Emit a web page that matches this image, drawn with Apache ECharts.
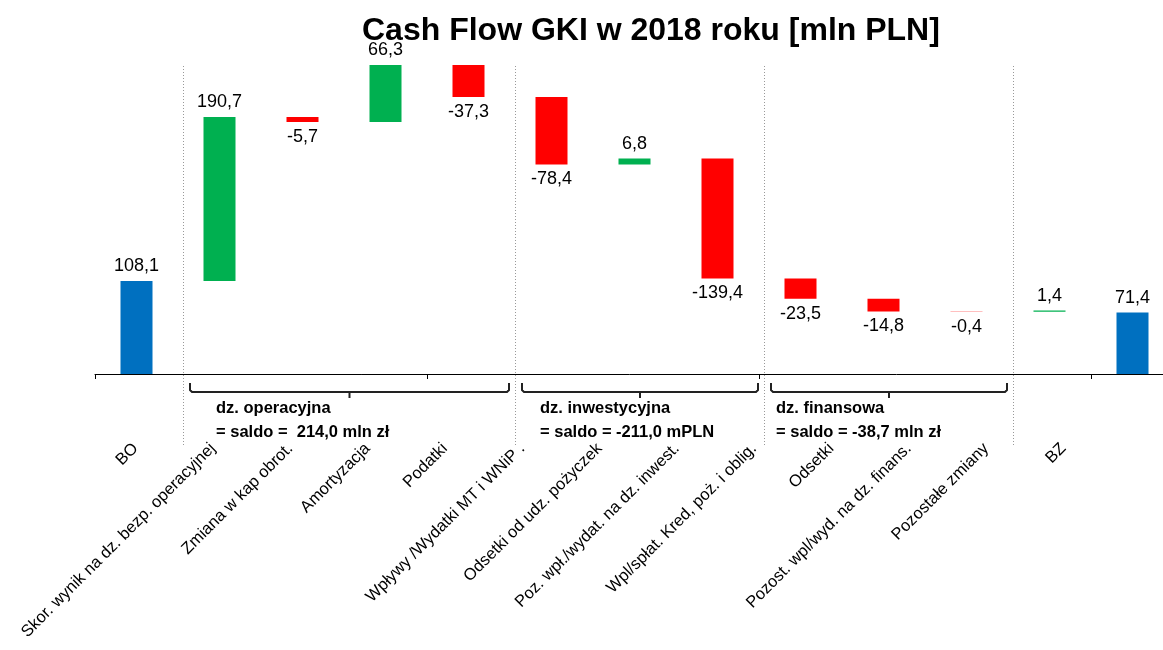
<!DOCTYPE html>
<html>
<head>
<meta charset="utf-8">
<script src="https://cdn.jsdelivr.net/npm/echarts@6/dist/echarts.min.js"></script>
<style>
  html, body { margin: 0; padding: 0; background: #fff; }
  #chart { width: 1163px; height: 650px; }
</style>
</head>
<body>
<div id="chart"></div>
<script>
  // dane
  const categories = [
    'BO',
    'Skor. wynik na dz. bezp. operacyjnej',
    'Zmiana w kap obrot.',
    'Amortyzacja',
    'Podatki',
    'Wpływy /Wydatki MT i WNiP .',
    'Odsetki od udz. pożyczek',
    'Poz. wpł./wydat. na dz. inwest.',
    'Wpl/spłat. Kred, poż. i oblig.',
    'Odsetki',
    'Pozost. wpl/wyd. na dz. finans.',
    'Pozostałe zmiany',
    'BZ'
  ];
  const values = [108.1, 190.7, -5.7, 66.3, -37.3, -78.4, 6.8, -139.4, -23.5, -14.8, -0.4, 1.4, 71.4];
  const isTotal = [true, false, false, false, false, false, false, false, false, false, false, false, true];
  const groups = [
    { from: 1, to: 4, dx: 26, lines: ['dz. operacyjna', '= saldo =  214,0 mln zł'] },
    { from: 5, to: 7, dx: 18, lines: ['dz. inwestycyjna', '= saldo = -211,0 mPLN'] },
    { from: 8, to: 10, dx: 5, lines: ['dz. finansowa', '= saldo = -38,7 mln zł'] }
  ];
  const separatorsAt = [1, 5, 8, 11];

  const BLUE = '#0070C0', GREEN = '#00B050', RED = '#FF0000';

  // waterfall: niewidoczna podstawa + słupek
  const baseData = [];
  const barData = [];
  let running = 0;
  values.forEach((v, i) => {
    let base, h, color;
    if (isTotal[i]) {
      base = 0; h = v; color = BLUE; running = v;
    } else if (v >= 0) {
      base = running; h = v; color = GREEN; running += v;
    } else {
      base = running + v; h = -v; color = RED; running += v;
    }
    baseData.push(base);
    barData.push({
      value: h,
      itemStyle: { color: color },
      label: { position: (isTotal[i] || v >= 0) ? 'top' : 'bottom' }
    });
  });

  const fmt = v => v.toFixed(1).replace('.', ',');

  const chart = echarts.init(document.getElementById('chart'));
  chart.setOption({
    animation: false,
    textStyle: { fontFamily: 'Liberation Sans, Arial, sans-serif' },
    title: {
      text: 'Cash Flow GKI w 2018 roku [mln PLN]',
      left: 357,
      top: 10,
      textStyle: { fontSize: 32, fontWeight: 'bold', color: '#000', fontFamily: 'Liberation Sans, Arial, sans-serif' }
    },
    grid: [
      { left: 95, width: 1079, top: 30, bottom: 276, outerBoundsMode: 'none', containLabel: false },
      { left: 97, width: 1005, top: 30, bottom: 276, outerBoundsMode: 'none', containLabel: false }
    ],
    xAxis: [
      {
        type: 'category',
        data: categories,
        axisLine: { lineStyle: { color: '#000', width: 1 } },
        axisTick: { show: true, length: 5, lineStyle: { color: '#000' } },
        axisLabel: { show: false }
      },
      {
        type: 'category',
        gridIndex: 1,
        data: categories,
        axisLine: { show: false },
        axisTick: { show: false },
        axisLabel: {
          interval: 0,
          rotate: 45,
          margin: 72,
          fontSize: 16.5,
          color: '#000'
        }
      }
    ],
    yAxis: [
      { type: 'value', min: 0, max: 400, show: false },
      { type: 'value', gridIndex: 1, min: 0, max: 1, show: false }
    ],
    series: [
      {
        type: 'bar',
        stack: 'wf',
        data: baseData,
        itemStyle: { color: 'transparent' },
        silent: true,
        barWidth: 32
      },
      {
        type: 'bar',
        stack: 'wf',
        data: barData,
        barWidth: 32,
        label: {
          show: true,
          fontSize: 18,
          color: '#000',
          distance: 6,
          formatter: p => fmt(values[p.dataIndex])
        }
      }
    ]
  });

  // separatory i klamry
  function drawAnnotations() {
    const px = i => chart.convertToPixel({ xAxisIndex: 0 }, i);
    const band = px(1) - px(0);
    const axisY = chart.convertToPixel({ yAxisIndex: 0 }, 0);
    const g = [];
    separatorsAt.forEach(i => {
      const x = Math.round(px(i) - band / 2 + 5) + 0.5;
      g.push({
        type: 'line',
        shape: { x1: x, y1: 66, x2: x, y2: 446 },
        style: { stroke: '#999', lineWidth: 1, lineDash: [1, 2] },
        silent: true
      });
    });
    groups.forEach(gr => {
      const L = px(gr.from) - band / 2 + 12;
      const R = px(gr.to) + band / 2 - 1;
      const C = (L + R) / 2;
      const top = axisY + 9, bot = axisY + 18;
      g.push({
        type: 'polyline',
        shape: { points: [[L, top], [L, bot - 2], [L + 2, bot], [R - 2, bot], [R, bot - 2], [R, top]] },
        style: { stroke: '#222', lineWidth: 2, fill: null },
        silent: true
      });
      g.push({
        type: 'line',
        shape: { x1: C, y1: bot, x2: C, y2: bot + 6 },
        style: { stroke: '#222', lineWidth: 2 },
        silent: true
      });
      gr.lines.forEach((t, k) => {
        g.push({
          type: 'text',
          x: L + gr.dx,
          y: axisY + 34 + k * 24,
          style: {
            text: t,
            fill: '#000',
            font: 'bold 16.5px "Liberation Sans", Arial, sans-serif',
            verticalAlign: 'middle',
            align: 'left'
          },
          silent: true
        });
      });
    });
    chart.setOption({ graphic: g });
  }
  drawAnnotations();
</script>
</body>
</html>
